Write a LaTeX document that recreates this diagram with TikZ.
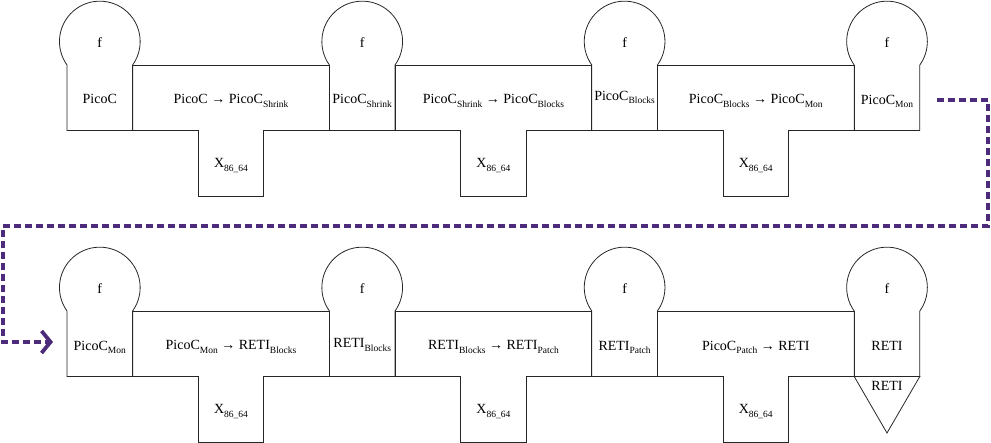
\documentclass[tikz,border=0pt]{standalone}
\usepackage{fontspec}
\setmainfont{Liberation Serif}
\usetikzlibrary{arrows.meta}
\definecolor{dpurple}{RGB}{76,43,122}
\newcommand\sbs[1]{\raisebox{-3.5pt}{\fontsize{9.5}{10}\selectfont #1}}
\newcommand\mkprog[2]{%
  \draw[shapeline] (#1,-#2-65.5) -- (#1,-#2) arc[start angle=215.6,end angle=-35.6,radius=40.35] -- (#1+65.6,-#2-65.5) -- cycle;}
\newcommand\mkT[2]{%
  \draw[shapeline] (#1,-#2) -- (#1+196.8,-#2) -- (#1+196.8,-#2-65.5) -- (#1+131.2,-#2-65.5) -- (#1+131.2,-#2-131) -- (#1+65.6,-#2-131) -- (#1+65.6,-#2-65.5) -- (#1,-#2-65.5) -- cycle;}
\begin{document}
\begin{tikzpicture}[x=1pt,y=1pt,
  shapeline/.style={draw=black!85,line width=0.8pt},
  lbl/.style={anchor=base,inner sep=0pt,font=\fontsize{14}{16}\selectfont},
  flow/.style={dpurple,line width=3.8pt,dash pattern=on 7pt off 4pt,-{Straight Barb[length=9pt,width=22pt]}}]
\useasboundingbox (0,0) rectangle (991,-443);
\foreach \yy in {65,311} {
  \foreach \xx in {67,329.4,591.8,854.2} {\mkprog{\xx}{\yy}}
  \foreach \xx in {132.6,395,657.4} {\mkT{\xx}{\yy}}
}
\draw[shapeline] (854.2,-376.5) -- (919.8,-376.5) -- (887,-433) -- cycle;
% f labels
\foreach \xx [count=\i] in {99.8,362.2,624.6,887} {
  \node[lbl] (ft\i) at (\xx,-47.5) {f};
  \node[lbl] (fb\i) at (\xx,-293.5) {f};
}
% X labels
\foreach \xx [count=\i] in {231,493.4,755.8} {
  \node[lbl] (xt\i) at (\xx,-168) {X\sbs{86\_64}};
  \node[lbl] (xb\i) at (\xx,-414) {X\sbs{86\_64}};
}
% top row
\node[lbl] (pt1) at (99.8,-104) {PicoC};
\node[lbl] (tt1) at (231,-104) {PicoC → PicoC\sbs{Shrink}};
\node[lbl] (pt2) at (362.2,-104) {PicoC\sbs{Shrink}};
\node[lbl] (tt2) at (493.4,-104) {PicoC\sbs{Shrink} → PicoC\sbs{Blocks}};
\node[lbl] (pt3) at (624.6,-100.5) {PicoC\sbs{Blocks}};
\node[lbl] (tt3) at (755.8,-104) {PicoC\sbs{Blocks} → PicoC\sbs{Mon}};
\node[lbl] (pt4) at (887,-104.5) {PicoC\sbs{Mon}};
% bottom row
\node[lbl] (pb1) at (99.8,-350.5) {PicoC\sbs{Mon}};
\node[lbl] (tb1) at (231,-350) {PicoC\sbs{Mon} → RETI\sbs{Blocks}};
\node[lbl] (pb2) at (362.2,-348) {RETI\sbs{Blocks}};
\node[lbl] (tb2) at (493.4,-350) {RETI\sbs{Blocks} → RETI\sbs{Patch}};
\node[lbl] (pb3) at (624.6,-350.5) {RETI\sbs{Patch}};
\node[lbl] (tb3) at (755.8,-350.5) {PicoC\sbs{Patch} → RETI};
\node[lbl] (pb4) at (887,-350.5) {RETI};
\node[lbl] (mb4) at (887,-391) {RETI};
% connector
\coordinate (ds) at (937,-100);
\coordinate (de) at (53,-342);
\draw[flow] (ds) -- (988,-100) -- (988,-226) -- (3,-226) |- (de);
\end{tikzpicture}
\end{document}
